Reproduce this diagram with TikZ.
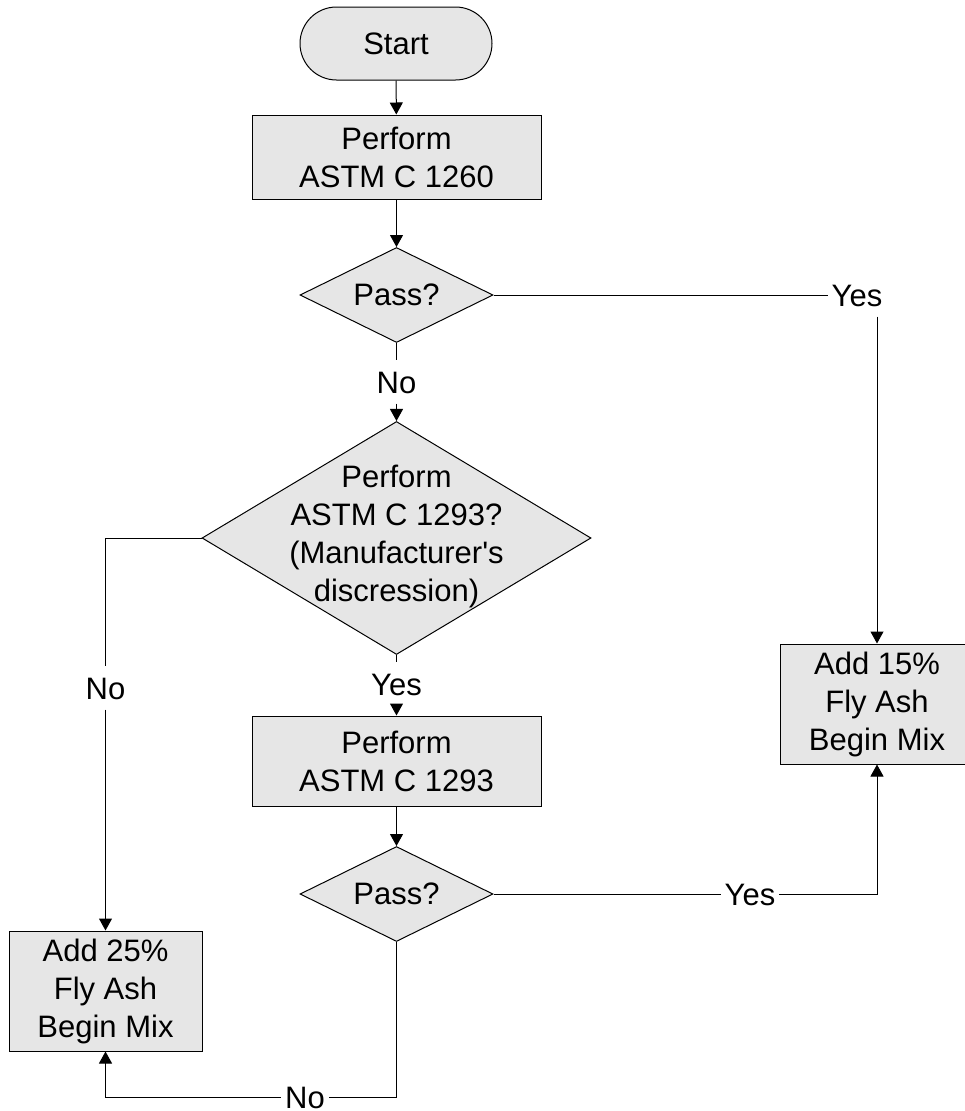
\documentclass[tikz,border=0pt]{standalone}
\usepackage{fontspec}
\setmainfont{Liberation Sans}[Ligatures=TeXOff]
\usepackage{xcolor}
\usepackage{tikz}
\usetikzlibrary{arrows.meta,shapes.geometric}

\definecolor{boxgray}{RGB}{230,230,230}

\begin{document}
\begin{tikzpicture}[x=1pt,y=-1pt]
\tikzstyle{every node}+=[inner sep=0pt,font=\fontsize{31}{38}\selectfont]
\tikzstyle{proc}=[draw=black,fill=boxgray,line width=1pt,align=center]
\tikzstyle{decision}=[draw=black,fill=boxgray,line width=1pt,shape=diamond]
\tikzstyle{answer}=[inner xsep=4pt,inner ysep=10.5pt,text height=22pt,text depth=0pt]
\tikzstyle{flow}=[black,line width=1pt]
\tikzstyle{arrow}=[flow,-{Triangle[width=13pt,length=12pt]}]
\useasboundingbox (0,0) rectangle (964,1111);
% boxes
\node [proc,rounded corners=36.5pt,minimum width=192pt,minimum height=73pt] (start) at (396,43.5) {Start};
\node [proc,minimum width=289pt,minimum height=84pt] (b1) at (396.5,157) {Perform\\ASTM C 1260};
\node [decision,minimum width=193pt,minimum height=95pt] (d1) at (396.5,295) {};
\node (d1t) at (d1) {Pass?};
\node [decision,minimum width=389pt,minimum height=233pt] (d2) at (396.5,538) {};
\node [align=center] (d2t) at (396.5,536) {Perform\\ASTM C 1293?\\(Manufacturer's\\discression)};
\node [proc,minimum width=289pt,minimum height=90pt] (b2) at (396.5,761) {Perform\\ASTM C 1293};
\node [decision,minimum width=193pt,minimum height=95pt] (d3) at (396.5,894) {};
\node (d3t) at (d3) {Pass?};
\node [proc,minimum width=193pt,minimum height=120pt] (b15) at (877,704) {Add 15\%\\Fly Ash\\Begin Mix};
\node [proc,minimum width=193pt,minimum height=120pt] (b25) at (105.5,991) {Add 25\%\\Fly Ash\\Begin Mix};
% answers
\node [answer] (no1) at (396.5,382) {No};
\node [answer] (yes1) at (396.5,684) {Yes};
\node [answer] (no2) at (105.5,688) {No};
\node [answer] (yes2) at (857,295) {Yes};
\node [answer] (yes3) at (750,894) {Yes};
\node [answer,inner ysep=1pt] (no3) at (305,1097) {No};
% connectors
\draw [arrow] (start) -- (b1);
\draw [arrow] (b1) -- (d1);
\draw [flow] (d1) -- (no1);
\draw [arrow] (no1) -- (d2);
\draw [flow] (d1) -- (yes2);
\draw [arrow] (yes2.south -| b15.north) -- (b15.north);
\draw [flow] (d2.west) -| (no2);
\draw [arrow] (no2) -- (b25);
\draw [flow] (d2) -- (yes1);
\draw [arrow] (yes1) -- (b2);
\draw [arrow] (b2) -- (d3);
\draw [flow] (d3) -- (yes3);
\draw [arrow] (yes3) -| (b15);
\draw [flow] (d3) |- (no3);
\draw [arrow] (no3) -| (b25);
\end{tikzpicture}
\end{document}
